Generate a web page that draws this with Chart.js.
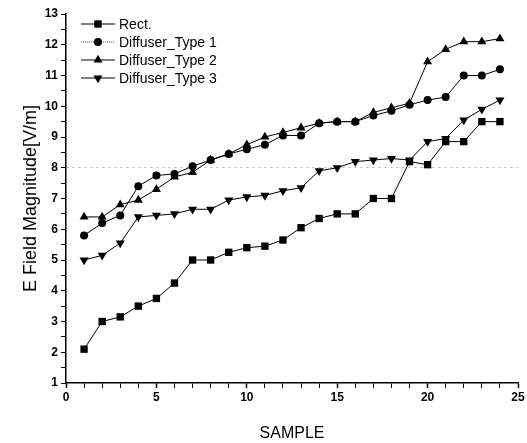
<!DOCTYPE html>
<html>
<head>
<meta charset="utf-8">
<script src="https://cdn.jsdelivr.net/npm/chart.js@4"></script>
<style>
  html, body { margin: 0; padding: 0; background: #fff; }
  #wrap { width: 527px; height: 443px; position: relative; }
</style>
</head>
<body>
<div id="wrap"><canvas id="fieldChart"></canvas></div>
<script>
const samples = [1, 2, 3, 4, 5, 6, 7, 8, 9, 10, 11, 12, 13, 14, 15, 16, 17, 18, 19, 20, 21, 22, 23, 24];
const seriesNames = ['Rect.', 'Diffuser_Type 1', 'Diffuser_Type 2', 'Diffuser_Type 3'];
const rectValues = [2.1, 3.0, 3.15, 3.5, 3.75, 4.25, 5.0, 5.0, 5.25, 5.4, 5.45, 5.65, 6.05, 6.35, 6.5, 6.5, 7.0, 7.0, 8.2, 8.1, 8.85, 8.85, 9.5, 9.5];
const type1Values = [5.8, 6.2, 6.45, 7.4, 7.75, 7.8, 8.05, 8.25, 8.45, 8.6, 8.75, 9.05, 9.05, 9.45, 9.5, 9.5, 9.7, 9.85, 10.05, 10.2, 10.3, 11.0, 11.0, 11.2];
const type2Values = [6.4, 6.4, 6.8, 6.95, 7.3, 7.7, 7.85, 8.25, 8.45, 8.75, 9.0, 9.15, 9.3, 9.45, 9.5, 9.5, 9.8, 9.95, 10.1, 11.45, 11.85, 12.1, 12.1, 12.2];
const type3Values = [5.0, 5.15, 5.55, 6.4, 6.45, 6.5, 6.65, 6.65, 6.95, 7.05, 7.1, 7.25, 7.35, 7.9, 8.0, 8.2, 8.25, 8.3, 8.25, 8.85, 8.95, 9.55, 9.9, 10.2];
const xTickLabels = [0, 5, 10, 15, 20, 25];
const yTickLabels = [1, 2, 3, 4, 5, 6, 7, 8, 9, 10, 11, 12, 13];

const FONT = 'Arial, "Liberation Sans", sans-serif';

// marker look per series: [pointStyle, radius, rotation]
const markers = [
    ['rect', 5.2, 0],
    ['circle', 4, 0],
    ['triangle', 5.2, 0],
    ['triangle', 5.2, 180]
];

const toPoints = (vals) => samples.map((s, i) => ({ x: s, y: vals[i] }));

const datasets = [rectValues, type1Values, type2Values, type3Values].map((vals, i) => ({
    label: seriesNames[i],
    data: toPoints(vals),
    showLine: true,
    borderColor: '#000',
    backgroundColor: '#000',
    borderWidth: 1,
    pointStyle: markers[i][0],
    pointRadius: markers[i][1],
    pointRotation: markers[i][2],
    pointBorderWidth: 0,
    pointBackgroundColor: '#000'
}));

// legend drawn inside the plot, line through the marker like the original
const insideLegend = {
    id: 'insideLegend',
    afterDraw(chart) {
        const c = chart.ctx;
        const area = chart.chartArea;
        c.save();
        chart.data.datasets.forEach((ds, i) => {
            const y = area.top + 10 + i * 18;
            const x0 = area.left + 15;
            c.beginPath();
            c.strokeStyle = i === 1 ? '#555' : '#000';
            c.lineWidth = 1;
            c.setLineDash(i === 1 ? [1, 1] : []);
            c.moveTo(x0, y);
            c.lineTo(x0 + 34, y);
            c.stroke();
            c.setLineDash([]);
            c.fillStyle = '#000';
            Chart.helpers.drawPoint(c, {
                pointStyle: ds.pointStyle,
                rotation: ds.pointRotation,
                radius: ds.pointRadius,
                borderWidth: 0
            }, x0 + 17, y);
            c.font = '14px ' + FONT;
            c.textBaseline = 'middle';
            c.textAlign = 'left';
            c.fillText(ds.label, x0 + 38, y + 1);
        });
        c.restore();
    }
};

const ctx = document.getElementById('fieldChart');
new Chart(ctx, {
    type: 'scatter',
    data: { datasets },
    options: {
        responsive: true,
        maintainAspectRatio: false,
        animation: false,
        layout: { padding: { top: 14, right: 9, left: 0, bottom: 0 } },
        plugins: {
            legend: { display: false },
            tooltip: { enabled: false }
        },
        scales: {
            x: {
                type: 'linear',
                min: 0,
                max: 25,
                border: { color: '#000', width: 1.5 },
                grid: {
                    drawOnChartArea: false,
                    tickLength: 5,
                    tickColor: '#000',
                    tickWidth: (c) => xTickLabels.includes(c.tick.value) ? 1.5 : 1
                },
                ticks: {
                    stepSize: 1,
                    autoSkip: false,
                    maxRotation: 0,
                    color: '#000',
                    padding: 2,
                    font: { family: FONT, size: 12, weight: 'bold' },
                    callback: (v) => xTickLabels.includes(v) ? String(v) : ''
                },
                title: {
                    display: true,
                    text: 'SAMPLE',
                    color: '#000',
                    font: { family: FONT, size: 16 },
                    padding: { top: 14, bottom: 0 }
                },
                afterFit: (scale) => { scale.height = 60; }
            },
            y: {
                min: 1,
                max: 13,
                // in v4 border.dash styles the grid lines; only the 8 line is visible
                border: { color: '#000', width: 1.5, dash: [2, 4] },
                grid: {
                    drawOnChartArea: true,
                    color: (c) => c.tick.value === 8 ? '#b0b0b0' : 'rgba(0,0,0,0)',
                    tickBorderDash: [],
                    tickColor: '#000',
                    tickLength: 5,
                    lineWidth: 1
                },
                ticks: {
                    stepSize: 0.5,
                    autoSkip: false,
                    color: '#000',
                    padding: 3,
                    font: { family: FONT, size: 12, weight: 'bold' },
                    callback: (v) => yTickLabels.includes(v) ? String(v) : ''
                },
                title: {
                    display: true,
                    text: 'E Field Magnitude[V/m]',
                    color: '#000',
                    font: { family: FONT, size: 18 },
                    padding: { top: 20, bottom: 0 }
                },
                afterFit: (scale) => { scale.width = 66; }
            }
        }
    },
    plugins: [insideLegend]
});
</script>
</body>
</html>
